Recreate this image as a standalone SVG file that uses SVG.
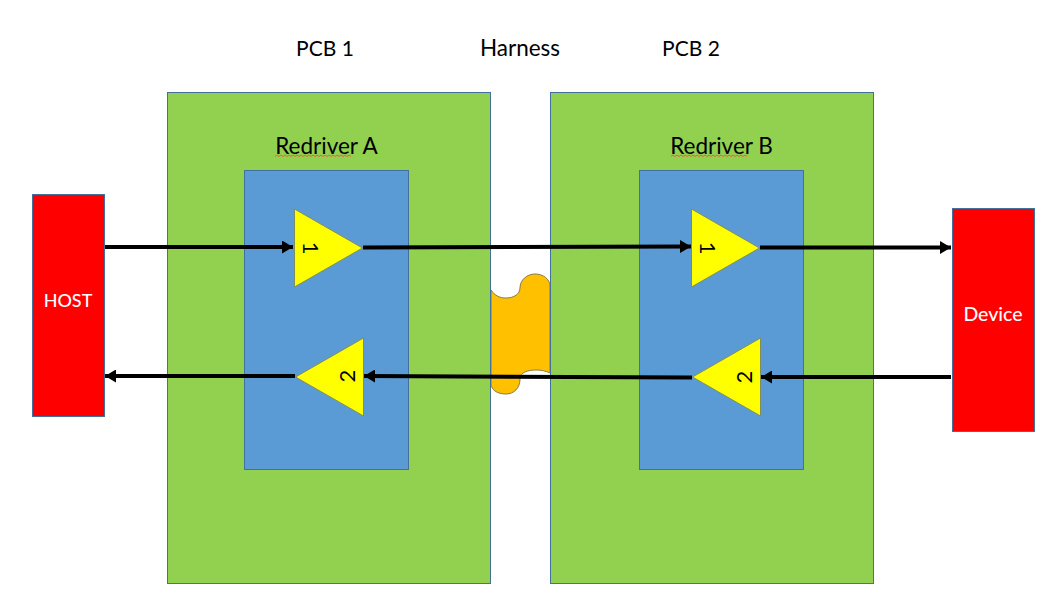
<svg xmlns="http://www.w3.org/2000/svg" width="1059" height="616" viewBox="0 0 1059 616">
<style>
  text { font-family: Lato, "Open Sans", "Liberation Sans", sans-serif; }
  .title { font-size: 21px; fill: #000; text-anchor: middle; }
  .sub { font-size: 22.500px; }
  .pcb { fill: #92d050; stroke: #41719c; stroke-width: 1; }
  .chip { fill: #5b9bd5; stroke: #41719c; stroke-width: 1; }
  .amp { fill: #ffff00; stroke: #7f8f5a; stroke-width: 1; }
  .end { fill: #ff0000; stroke: #41719c; stroke-width: 1; }
  .endlabel { font-size: 18px; font-weight: 500; fill: #fff; text-anchor: middle; }
  .num { font-size: 22px; fill: #000; text-anchor: middle; }
  .squiggle { fill: none; stroke: #e0653a; stroke-width: 1; }
  .wire { fill: none; stroke: #000; stroke-width: 4; }
</style>
<defs>
  <marker id="head" markerUnits="userSpaceOnUse" markerWidth="12" markerHeight="13" refX="11" refY="6.500" orient="auto">
    <path d="M0 0L11 6.500L0 13Z" fill="#000"/>
  </marker>
</defs>
<rect width="1059" height="616" fill="#fff"/>
<text class="title" x="325" y="56">PCB 1</text>
<text class="title" x="520" y="56" font-size="22" style="font-size:22.500px">Harness</text>
<text class="title" x="691" y="56">PCB 2</text>
<g id="harness">
  <path d="M491 290C495 296 500 298 506 298C514 298 520 294 520 288C520 280 527 274 535 274C543 274 550 279 550 286L550 373C546 371 541 370 537 370C528 370 520 372 520 379C520 388 514 394 506 394C497 394 491 390 491 383Z" fill="#ffc000" stroke="#8a7a40" stroke-width="1"/>
</g>
<g id="pcb1">
  <rect class="pcb" x="167.500" y="92.500" width="323" height="491"/>
</g>
<g id="pcb2">
  <rect class="pcb" x="550.500" y="92.500" width="323" height="491"/>
</g>
<g id="redriver-a">
  <rect class="chip" x="244.500" y="170.500" width="164" height="299"/>
  <text class="title sub" x="326.500" y="154">Redriver A</text>
  <path class="squiggle" d="M275 156.500l2 -1.500l2 1.500l2 -1.500l2 1.500l2 -1.500l2 1.500l2 -1.500l2 1.500l2 -1.500l2 1.500l2 -1.500l2 1.500l2 -1.500l2 1.500l2 -1.500l2 1.500l2 -1.500l2 1.500l2 -1.500l2 1.500l2 -1.500l2 1.500l2 -1.500l2 1.500l2 -1.500l2 1.500l2 -1.500l2 1.500l2 -1.500l2 1.500l2 -1.500l2 1.500l2 -1.500l2 1.500l2 -1.500l2 1.500l2 -1.500l2 1.500"/>
</g>
<g id="redriver-b">
  <rect class="chip" x="639.500" y="170.500" width="164" height="299"/>
  <text class="title sub" x="721.500" y="154">Redriver B</text>
  <path class="squiggle" d="M671 156.500l2 -1.500l2 1.500l2 -1.500l2 1.500l2 -1.500l2 1.500l2 -1.500l2 1.500l2 -1.500l2 1.500l2 -1.500l2 1.500l2 -1.500l2 1.500l2 -1.500l2 1.500l2 -1.500l2 1.500l2 -1.500l2 1.500l2 -1.500l2 1.500l2 -1.500l2 1.500l2 -1.500l2 1.500l2 -1.500l2 1.500l2 -1.500l2 1.500l2 -1.500l2 1.500l2 -1.500l2 1.500l2 -1.500l2 1.500l2 -1.500l2 1.500"/>
</g>
<g id="host">
  <rect class="end" x="32.500" y="194.500" width="72" height="222"/>
  <text class="endlabel" x="68" y="306.500">HOST</text>
</g>
<g id="device">
  <rect class="end" x="952.500" y="208.500" width="82" height="223"/>
  <text class="endlabel" x="993" y="320.500" style="font-size:19.500px">Device</text>
</g>
<g id="amp-a1">
  <path class="amp" d="M294.500 209L362.500 248L294.500 287Z"/>
  <text class="num" transform="translate(303 248) rotate(90)">1</text>
</g>
<g id="amp-a2">
  <path class="amp" d="M363.500 338L295.500 377L363.500 416Z"/>
  <text class="num" transform="translate(355 376) rotate(-90)">2</text>
</g>
<g id="amp-b1">
  <path class="amp" d="M691.500 209L759.500 248L691.500 287Z"/>
  <text class="num" transform="translate(700 248) rotate(90)">1</text>
</g>
<g id="amp-b2">
  <path class="amp" d="M760.500 338L692.500 377L760.500 416Z"/>
  <text class="num" transform="translate(752 377) rotate(-90)">2</text>
</g>
<g id="connectors">
  <path class="wire" marker-end="url(#head)" d="M105 247L293 247"/>
  <path class="wire" marker-end="url(#head)" d="M363 247.500L691 246.500"/>
  <path class="wire" marker-end="url(#head)" d="M760 247.500L951 247.500"/>
  <path class="wire" marker-end="url(#head)" d="M951 377L761 377"/>
  <path class="wire" marker-end="url(#head)" d="M692 377.500L364 376"/>
  <path class="wire" marker-end="url(#head)" d="M295 376L105 376"/>
</g>
</svg>
